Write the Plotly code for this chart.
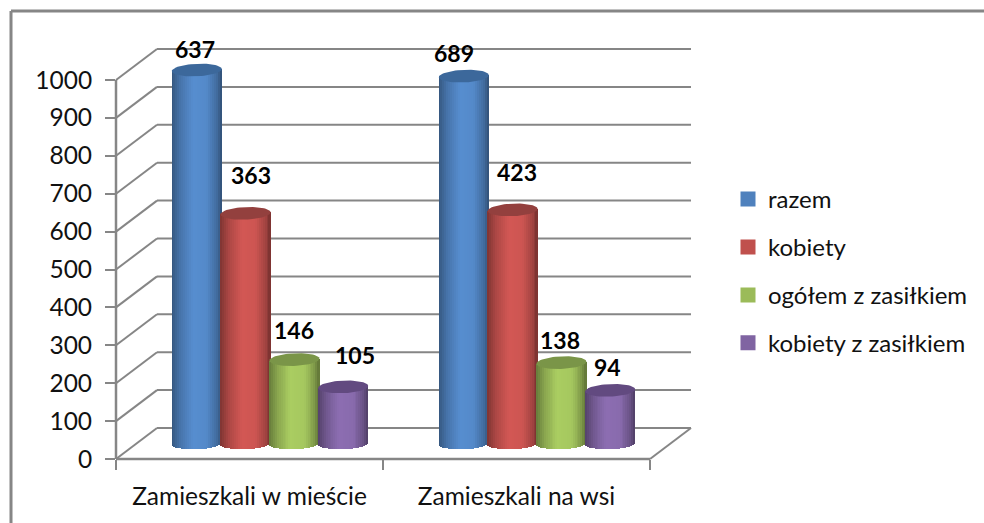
import numpy as np
import plotly.graph_objects as go

CATEGORIES = ["Zamieszkali w mieście", "Zamieszkali na wsi"]
SERIES = ["razem", "kobiety", "ogółem z zasiłkiem", "kobiety z zasiłkiem"]
RAZEM = [984, 968]
KOBIETY = [606, 615]
OGOLEM = [220, 212]
KOBIETY_Z = [148, 139]
LABELS_RAZEM = ["637", "689"]
LABELS_KOBIETY = ["363", "423"]
LABELS_OGOLEM = ["146", "138"]
LABELS_KOBIETY_Z = ["105", "94"]
YTICKS = list(range(0, 1001, 100))

VALUES = [RAZEM, KOBIETY, OGOLEM, KOBIETY_Z]
TEXTS = [LABELS_RAZEM, LABELS_KOBIETY, LABELS_OGOLEM, LABELS_KOBIETY_Z]

# styling / geometry
W, H = 984, 523
COLORS = ["#4F81BD", "#C0504D", "#9BBB59", "#8064A2"]
CAPS = ["#3C689B", "#93403E", "#7A9548", "#624A80"]
GRID = "#868686"
FONT = "Lato"
X0, Y0 = 116, 459            # pixel of axis origin
XU, YU = 267, 0.379          # pixels per category, per value unit
WALL_DX, WALL_DY = 41 / XU, 31 / YU
MID_DX, MID_DY = 20.5 / XU, 16 / YU
XR, YR = 2 + WALL_DX, 1000 + WALL_DY
STEP = 48.8 / XU
RX, RY, TILT = 25 / XU, 6.3 / YU, 1 / YU
SHIFTS = [[(-2, -21), (-10, -23)], [(5, -38), (4, -38)], [(0, -30), (-1, -23)], [(12, -32), (-3, -23)]]


def shade(c, f):
    r = [int(c[i:i + 2], 16) for i in (1, 3, 5)]
    return "rgb(%d,%d,%d)" % tuple(min(255, int(v * f)) for v in r)


def px(x):
    return (X0 + x * XU) / W


def py(y):
    return (H - (Y0 - y * YU)) / H


fig = go.Figure()
N = 26
us = (np.arange(N) + 0.5) / N * 2 - 1
for s, name in enumerate(SERIES):
    xs = np.array([i + 0.5 + MID_DX + (s - 1.5) * STEP for i in range(2)])
    vals = np.array(VALUES[s], float)
    fig.add_trace(go.Bar(x=xs, y=vals, base=[MID_DY, MID_DY], width=RX * 1.6, name=name, legendgroup=name,
                         marker=dict(color=COLORS[s], line=dict(color=COLORS[s], width=3)),
                         hoverinfo="skip"))
    for u in us:
        f = np.interp(u, [-1, -0.65, -0.15, 0.4, 0.8, 1], [0.66, 0.9, 1.1, 1.07, 0.84, 0.62])
        bot = MID_DY - RY * np.sqrt(1 - u * u) + TILT * u
        top = vals + MID_DY + TILT * u
        fig.add_trace(go.Bar(x=xs + u * RX, y=top - bot, base=[bot, bot], width=2 / N * RX * 1.25,
                             marker=dict(color=shade(COLORS[s], f), line=dict(width=0)),
                             showlegend=False, legendgroup=name, hoverinfo="skip"))
for s in range(4):
    for i in range(2):
        cx = i + 0.5 + MID_DX + (s - 1.5) * STEP
        t = np.linspace(0, 2 * np.pi, 60)
        h = VALUES[s][i] + MID_DY
        fig.add_trace(go.Scatter(x=cx + RX * np.cos(t), y=h + RY * np.sin(t) + TILT * np.cos(t),
                                 mode="lines", fill="toself", fillcolor=CAPS[s], line=dict(width=0),
                                 showlegend=False, hoverinfo="skip"))
        dx, dy = SHIFTS[s][i]
        fig.add_annotation(x=cx, y=h, text=TEXTS[s][i], showarrow=False, xshift=dx, yshift=-dy,
                           font=dict(family=FONT, size=23, color="#000000", weight="bold"))

shapes = []


def line(x0, y0, x1, y1, width=2, color=GRID, layer="below"):
    shapes.append(dict(type="line", xref="paper", yref="paper", x0=x0, y0=y0, x1=x1, y1=y1,
                       line=dict(color=color, width=width), layer=layer))


for v in YTICKS:
    line(px(0), py(v), px(WALL_DX), py(v + WALL_DY))
    line(px(WALL_DX), py(v + WALL_DY), px(XR), py(v + WALL_DY))
line(px(2), py(0), px(XR), py(WALL_DY))
line(px(0), py(0), px(0), py(1000), width=2.5)
line(px(0), py(0), px(2), py(0), width=2.5)
# outer frame
line(11 / W, 1 - 11 / H, 1, 1 - 11 / H, width=3)
line(11 / W, 1 - 11 / H, 11 / W, 0, width=3)
fig.update_layout(shapes=shapes)

fig.update_layout(
    width=W, height=H, margin=dict(l=0, r=0, t=0, b=0), autosize=False,
    paper_bgcolor="white", plot_bgcolor="rgba(0,0,0,0)", barmode="overlay", bargap=0,
    font=dict(family=FONT, color="#111111", size=21),
    xaxis=dict(domain=[px(0), px(XR)], range=[0, XR], tickmode="array", tickvals=[0.5, 1.5], ticktext=CATEGORIES,
               showgrid=False, zeroline=False, showline=False, ticks="", ticklabelstandoff=20, automargin=False,
               tickfont=dict(family=FONT, size=24.5, color="#111111"),
               minor=dict(tickmode="array", tickvals=[0, 1, 2], ticks="outside", ticklen=10, tickwidth=2, tickcolor=GRID)),
    yaxis=dict(domain=[py(0), py(YR)], range=[0, YR], tickmode="array", tickvals=YTICKS, ticktext=[str(v) for v in YTICKS],
               showgrid=False, zeroline=False, showline=False, ticks="outside", ticklen=10, tickwidth=2, tickcolor=GRID,
               automargin=False, ticklabelstandoff=8, tickfont=dict(family=FONT, size=24.5, color="#111111")),
    legend=dict(x=728 / W, y=1 - 177 / H, xanchor="left", yanchor="top", traceorder="grouped", tracegroupgap=13.7,
                bgcolor="rgba(0,0,0,0)", font=dict(family=FONT, size=24, color="#111111")),
)
fig.write_html("out.html", config={"displayModeBar": False},
               post_script="document.body.style.margin='0';document.body.style.overflow='hidden';")
